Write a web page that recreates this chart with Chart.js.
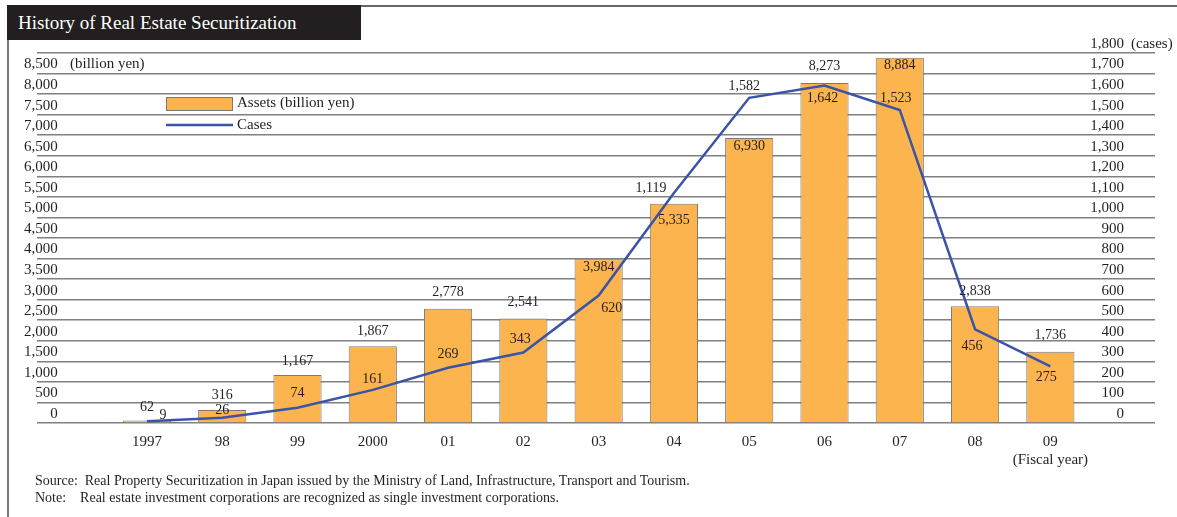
<!DOCTYPE html>
<html>
<head>
<meta charset="utf-8">
<title>History of Real Estate Securitization</title>
<script src="https://cdn.jsdelivr.net/npm/chart.js@4.4.1/dist/chart.umd.min.js"></script>
<style>
  body { margin: 0; background: #fff; font-family: "Liberation Serif", serif; color: #231f20; }
  .page { position: relative; width: 1177px; height: 517px; overflow: hidden; }
  .title { position: absolute; left: 7px; top: 5px; width: 354px; height: 35px; box-sizing: border-box;
           background: #231f20; color: #fff; font-size: 19px; line-height: 35px; padding-left: 11px; }
  .topline { position: absolute; left: 361px; right: 0; top: 5px; border-top: 2px solid #666; }
  .leftline { position: absolute; left: 7px; top: 40px; bottom: 0; border-left: 2px solid #777; }
  .chart { position: absolute; left: 0; top: 0; }
  .notes { position: absolute; left: 35px; top: 472px; font-size: 14px; line-height: 17px; white-space: pre; }
</style>
</head>
<body>
<div class="page">
  <div class="title">History of Real Estate Securitization</div>
  <div class="topline"></div>
  <div class="leftline"></div>
  <canvas id="securitization" class="chart" width="1177" height="481"></canvas>
  <div class="notes">Source:  Real Property Securitization in Japan issued by the Ministry of Land, Infrastructure, Transport and Tourism.
Note:    Real estate investment corporations are recognized as single investment corporations.</div>
</div>

<script>
// fiscal years, assets in billion yen, number of cases
const years = ['1997', '98', '99', '2000', '01', '02', '03', '04', '05', '06', '07', '08', ['09', '(Fiscal year)']];
const assets = [62, 316, 1167, 1867, 2778, 2541, 3984, 5335, 6930, 8273, 8884, 2838, 1736];
const cases = [9, 26, 74, 161, 269, 343, 620, 1119, 1582, 1642, 1523, 456, 275];

// axis ranges
const assetAxis = { max: 9000, step: 500 };
const caseAxis = { max: 1800, step: 100 };

// vertical shift (px) of each asset figure from its bar top: negative sits above, positive inside
const assetLabelDy = [-13, -15, -14, -15, -16, -16, 8, 17, 8, -17, 8, -15, -16];
// nudge (px) of each case figure away from its point
const caseLabelNudge = [[16, -6], [0, -7], [0, -14], [0, -11], [0, -13], [-3, -13], [13, 13],
                        [-23, -5], [-5, -11], [-2, 13], [-4, -12], [-3, 17], [-4, 11]];

const barFill = '#fbb44e';
const barEdge = '#7a7a7a';
const lineBlue = '#3b54a5';
const ink = '#231f20';
const serif = '"Liberation Serif", serif';

Chart.defaults.font.family = serif;
Chart.defaults.color = ink;

const fmt = (v) => v.toLocaleString('en-US');
// the value axes sit inside the plot, so they take no room of their own
const noWidth = (axis) => { axis.width = 0; };

// value figures on bars and on the cases line
const figureLabels = {
  id: 'figureLabels',
  afterDatasetsDraw(chart) {
    const ctx = chart.ctx;
    ctx.save();
    ctx.font = '14px ' + serif;
    ctx.fillStyle = ink;
    ctx.textAlign = 'center';
    ctx.textBaseline = 'middle';
    chart.getDatasetMeta(1).data.forEach((bar, i) => {
      ctx.fillText(fmt(assets[i]), bar.x, bar.y + assetLabelDy[i]);
    });
    chart.getDatasetMeta(0).data.forEach((pt, i) => {
      const [dx, dy] = caseLabelNudge[i];
      ctx.fillText(fmt(cases[i]), pt.x + dx, pt.y + dy);
    });
    ctx.restore();
  }
};

// unit captions and the legend box inside the plot
const captions = {
  id: 'captions',
  afterDraw(chart) {
    const { ctx, chartArea, scales } = chart;
    ctx.save();
    ctx.font = '15px ' + serif;
    ctx.fillStyle = ink;
    ctx.textAlign = 'left';
    ctx.textBaseline = 'middle';
    ctx.fillText('(billion yen)', chartArea.left + 33, scales.y.getPixelForValue(8500) - 9);
    ctx.fillText('(cases)', chartArea.right - 24, scales.y1.getPixelForValue(caseAxis.max) - 9);

    const lx = chartArea.left + 129;
    const ly = chartArea.top + 50;
    const bars = chart.data.datasets[1];
    const line = chart.data.datasets[0];
    ctx.fillStyle = barFill;
    ctx.fillRect(lx, ly - 6, 66, 13);
    ctx.strokeStyle = barEdge;
    ctx.lineWidth = 1;
    ctx.strokeRect(lx + 0.5, ly - 5.5, 66, 13);
    ctx.fillStyle = ink;
    ctx.fillText(bars.label, lx + 71, ly);

    ctx.strokeStyle = lineBlue;
    ctx.lineWidth = 2.5;
    ctx.beginPath();
    ctx.moveTo(lx, ly + 22);
    ctx.lineTo(lx + 67, ly + 22);
    ctx.stroke();
    ctx.fillText(line.label, lx + 71, ly + 22);
    ctx.restore();
  }
};

new Chart(document.getElementById('securitization'), {
  type: 'bar',
  data: {
    datasets: [
      {
        type: 'line',
        label: 'Cases',
        data: cases.map((v, i) => ({ x: i, y: v })),
        yAxisID: 'y1',
        borderColor: lineBlue,
        borderWidth: 2.5,
        pointRadius: 0,
        tension: 0,
        fill: false,
        order: 0
      },
      {
        type: 'bar',
        label: 'Assets (billion yen)',
        data: assets.map((v, i) => ({ x: i, y: v })),
        yAxisID: 'y',
        backgroundColor: barFill,
        borderColor: barEdge,
        borderWidth: 1,
        categoryPercentage: 0.8,
        barPercentage: 0.8,
        order: 1
      }
    ]
  },
  options: {
    responsive: false,
    animation: false,
    layout: { padding: { left: 37, right: 22, top: 53, bottom: 2 } },
    plugins: {
      legend: { display: false },
      tooltip: { enabled: false }
    },
    scales: {
      x: {
        type: 'linear',
        min: -1.46,
        max: 13.39,
        offset: false,
        grid: { display: false, drawTicks: false, offset: false },
        border: { display: false },
        afterBuildTicks: (axis) => { axis.ticks = years.map((_, i) => ({ value: i })); },
        ticks: {
          autoSkip: false,
          maxRotation: 0,
          padding: 10,
          font: { size: 15 },
          callback: (v) => years[v]
        }
      },
      y: {
        position: 'left',
        min: 0,
        max: assetAxis.max,
        afterFit: noWidth,
        grid: { color: '#808080', lineWidth: 1.5, drawTicks: false },
        border: { display: false },
        ticks: {
          stepSize: assetAxis.step,
          autoSkip: false,
          mirror: true,
          crossAlign: 'far',
          padding: -13,
          labelOffset: -9,
          font: { size: 15 },
          callback: (v) => (v === assetAxis.max ? '' : fmt(v))
        }
      },
      y1: {
        position: 'right',
        min: 0,
        max: caseAxis.max,
        afterFit: noWidth,
        grid: { display: false, drawTicks: false },
        border: { display: false },
        ticks: {
          stepSize: caseAxis.step,
          autoSkip: false,
          mirror: true,
          padding: -31,
          labelOffset: -9,
          font: { size: 15 },
          callback: (v) => fmt(v)
        }
      }
    }
  },
  plugins: [figureLabels, captions]
});
</script>
</body>
</html>
